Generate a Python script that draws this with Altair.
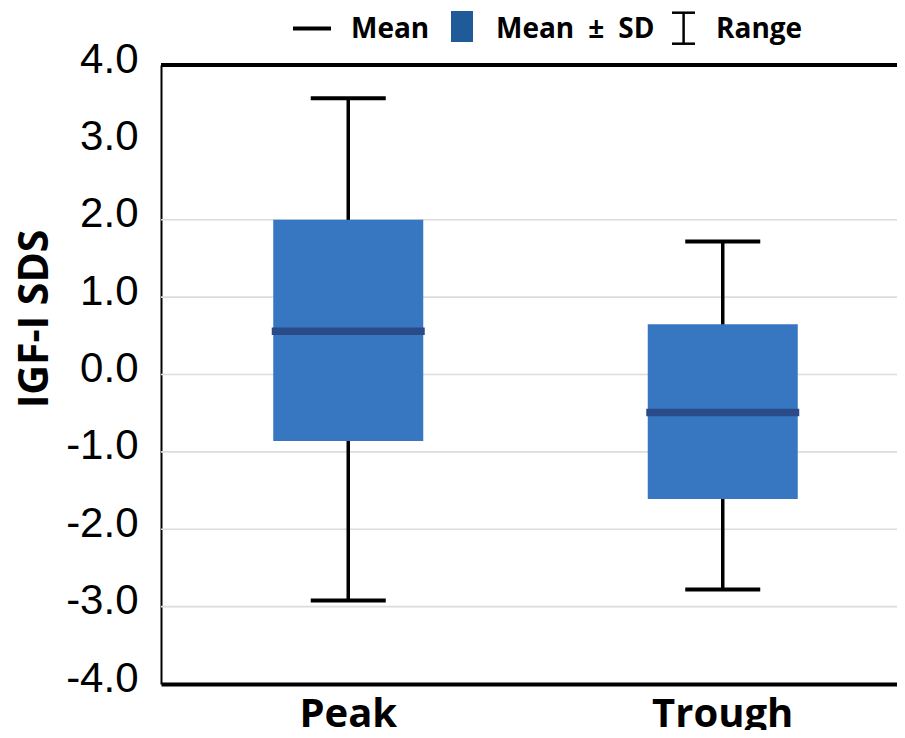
import altair as alt
import pandas as pd

# ---- data ----
groups = ["Peak", "Trough"]
means = [0.56, -0.49]
sd_low = [-0.86, -1.61]
sd_high = [2.0, 0.65]
range_min = [-2.92, -2.78]
range_max = [3.57, 1.72]
y_ticks = [-4, -3, -2, -1, 0, 1, 2, 3, 4]
grid_values = [-3, -2, -1, 0, 1, 2]
top_value = [4.0]
legend_labels = ["Mean", "Mean\u2002\u00b1\u2002SD", "Range"]

df = pd.DataFrame({
    "group": groups,
    "mean": means,
    "sd_low": sd_low,
    "sd_high": sd_high,
    "rmin": range_min,
    "rmax": range_max,
})

BOX = "#3776C1"
MEAN_C = "#2A4B87"
LEG_SQ = "#1F5A99"
FONT = "Open Sans"
NUM_FONT = "Liberation Sans Narrow, Liberation Sans, Arial, sans-serif"

W, H = 736, 619

x_scale = alt.Scale(domain=groups, range=[0, 749], paddingInner=0, paddingOuter=0)
x_axis = alt.Axis(
    title=None, labelAngle=0, labelFont=FONT, labelFontSize=40, labelFontWeight="bold",
    labelColor="black", labelBaseline="top", labelPadding=10, ticks=False, tickSize=0,
    domain=True, domainColor="black", domainWidth=4, grid=False,
)
y_scale = alt.Scale(domain=[-4, 4], nice=False, zero=False)
y_axis = alt.Axis(
    values=y_ticks, grid=False, ticks=False, tickSize=0,
    labelExpr="datum.value < 0 ? '-' + format(-datum.value, '.1f') : format(datum.value, '.1f')",
    domain=True, domainColor="black", domainWidth=2,
    labelFont=NUM_FONT, labelFontSize=42, labelColor="black", labelPadding=23,
    labelOffset=-6, labelBaseline="middle",
    title="IGF-I SDS", titleFont=FONT, titleFontSize=41, titleFontWeight="bold",
    titleColor="black", titleX=-114, titleY=253.5, titleAngle=270,
    titleBaseline="alphabetic", titleAlign="center",
)

X = alt.X("group:N", sort=groups, scale=x_scale, axis=x_axis)

def Y(field):
    return alt.Y(f"{field}:Q", scale=y_scale, axis=y_axis)

base = alt.Chart(df)

grid = alt.Chart(pd.DataFrame({"v": grid_values})).mark_rule(
    color="#DCDCDC", strokeWidth=1.6
).encode(y=Y("v"))

whisker = base.mark_rule(color="black", strokeWidth=3.5).encode(
    x=X, y=Y("rmin"), y2="rmax:Q"
)
box = base.mark_bar(width=150, color=BOX).encode(x=X, y=Y("sd_low"), y2="sd_high:Q")
cap_lo = base.mark_tick(color="black", thickness=4, size=75, opacity=1).encode(x=X, y=Y("rmin"))
cap_hi = base.mark_tick(color="black", thickness=4, size=75, opacity=1).encode(x=X, y=Y("rmax"))
mean_t = base.mark_tick(color=MEAN_C, thickness=7.5, size=153, opacity=1).encode(x=X, y=Y("mean"))

top = alt.Chart(pd.DataFrame({"v": top_value})).mark_rule(
    color="black", strokeWidth=4
).encode(y=Y("v"))

# ---- legend (drawn above the plot area) ----
def one(label):
    return alt.Chart(pd.DataFrame({"label": [label]}))

LEG_FS = 28
leg_line = one(legend_labels[0]).mark_rule(color="black", strokeWidth=4).encode(
    x=alt.value(132), x2=alt.value(170), y=alt.value(-36.4)
)
leg_t1 = one(legend_labels[0]).mark_text(
    font=FONT, fontSize=LEG_FS, fontWeight="bold", color="black", align="left", baseline="alphabetic"
).encode(x=alt.value(190), y=alt.value(-27), text="label:N")
leg_sq = one(legend_labels[1]).mark_rect(color=LEG_SQ).encode(
    x=alt.value(290), x2=alt.value(312), y=alt.value(-54), y2=alt.value(-23)
)
leg_t2 = one(legend_labels[1]).mark_text(
    font=FONT, fontSize=LEG_FS, fontWeight="bold", color="black", align="left", baseline="alphabetic"
).encode(x=alt.value(335), y=alt.value(-27), text="label:N")
leg_stem = one(legend_labels[2]).mark_rule(color="black", strokeWidth=2.5).encode(
    x=alt.value(522.6), y=alt.value(-52.3), y2=alt.value(-21.3)
)
leg_cap1 = one(legend_labels[2]).mark_rule(color="black", strokeWidth=2.5).encode(
    x=alt.value(511), x2=alt.value(534), y=alt.value(-52.3)
)
leg_cap2 = one(legend_labels[2]).mark_rule(color="black", strokeWidth=2.5).encode(
    x=alt.value(511), x2=alt.value(534), y=alt.value(-21.3)
)
leg_t3 = one(legend_labels[2]).mark_text(
    font=FONT, fontSize=LEG_FS, fontWeight="bold", color="black", align="left", baseline="alphabetic"
).encode(x=alt.value(555), y=alt.value(-27), text="label:N")

chart = alt.layer(
    grid, whisker, box, cap_lo, cap_hi, mean_t, top,
    leg_line, leg_t1, leg_sq, leg_t2, leg_stem, leg_cap1, leg_cap2, leg_t3,
).properties(
    width=W, height=H,
    autosize=alt.AutoSizeParams(type="none"),
    padding={"left": 153, "top": 57, "right": 0, "bottom": 46},
    background="white",
).configure_view(stroke=None)

chart.save("out.html", embed_options={"renderer": "svg", "actions": False})
